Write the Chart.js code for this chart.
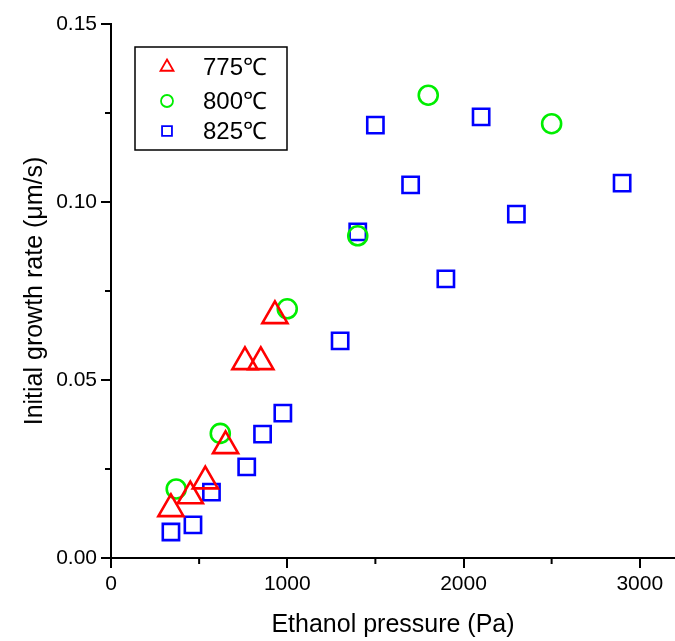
<!DOCTYPE html>
<html>
<head>
<meta charset="utf-8">
<script src="https://cdn.jsdelivr.net/npm/chart.js@4/dist/chart.umd.min.js"></script>
<style>
  html, body { margin: 0; padding: 0; background: #fff; }
  canvas { display: block; }
</style>
</head>
<body>
<canvas id="chart" width="675" height="641"></canvas>
<script>
// series (Ethanol pressure in Pa, growth rate in um/s)
const labels = ['775℃', '800℃', '825℃']

const x775 = [340, 450, 535, 650, 760, 850, 930]
const y775 = [0.0138, 0.0174, 0.0216, 0.0315, 0.0551, 0.0551, 0.068]

const x800 = [370, 620, 1000, 1400, 1800, 2500]
const y800 = [0.0194, 0.035, 0.070, 0.0905, 0.130, 0.122]

const x825 = [340, 465, 570, 770, 860, 975, 1300, 1400, 1500, 1700, 1900, 2100, 2300, 2900]
const y825 = [0.0073, 0.0093, 0.0185, 0.0256, 0.0348, 0.0407, 0.061, 0.0916, 0.1216, 0.1048, 0.0784, 0.1239, 0.0966, 0.1053]

const xTicks = [0, 1000, 2000, 3000]
const yTicks = [0, 0.05, 0.10, 0.15]
const xMajor = 1000
const yMajor = 0.05

const toPoints = (xs, ys) => xs.map((x, i) => ({ x: x, y: ys[i] }))

const FONT = "'Liberation Sans', Arial, sans-serif"

const series = [
  { label: labels[0], data: toPoints(x775, y775), color: '#ff0000', style: 'triangle', r: 14.5, lr: 7.5 },
  { label: labels[1], data: toPoints(x800, y800), color: '#00ee00', style: 'circle', r: 9.5, lr: 6 },
  { label: labels[2], data: toPoints(x825, y825), color: '#0000ff', style: 'rect', r: 11.5, lr: 7 },
]

// minor ticks + boxed legend, drawn after the chart
const extras = {
  id: 'extras',
  afterDraw(chart) {
    const ctx = chart.ctx
    const xs = chart.scales.x
    const ys = chart.scales.y
    const a = chart.chartArea
    ctx.save()
    ctx.strokeStyle = '#000'
    ctx.lineWidth = 2
    for (let v = xMajor / 2; v < xs.max; v += xMajor) {
      const px = xs.getPixelForValue(v)
      ctx.beginPath(); ctx.moveTo(px, a.bottom); ctx.lineTo(px, a.bottom + 6); ctx.stroke()
    }
    for (let v = yMajor / 2; v < ys.max; v += yMajor) {
      const py = ys.getPixelForValue(v)
      ctx.beginPath(); ctx.moveTo(a.left, py); ctx.lineTo(a.left - 6, py); ctx.stroke()
    }

    // legend
    const lx = a.left + 24, ly = a.top + 23
    ctx.lineWidth = 1.5
    ctx.strokeRect(lx, ly, 152, 103)
    ctx.font = '24px ' + FONT
    ctx.textBaseline = 'middle'
    ctx.textAlign = 'left'
    const rows = [20, 54, 84]
    series.forEach((s, i) => {
      ctx.strokeStyle = s.color
      ctx.fillStyle = 'rgba(0,0,0,0)'
      ctx.lineWidth = 1.8
      Chart.helpers.drawPoint(ctx, { pointStyle: s.style, radius: s.lr, rotation: 0, borderWidth: 1.8 }, lx + 32, ly + rows[i])
      ctx.fillStyle = '#000'
      ctx.fillText(s.label, lx + 68, ly + rows[i] + 1)
    })
    ctx.restore()
  }
}

const config = {
  type: 'scatter',
  data: {
    datasets: series.map(s => ({
      label: s.label,
      data: s.data,
      pointStyle: s.style,
      pointRadius: s.r,
      pointHoverRadius: s.r,
      pointBorderWidth: 2.6,
      borderColor: s.color,
      backgroundColor: 'rgba(0,0,0,0)',
      clip: false,
    })),
  },
  options: {
    responsive: false,
    devicePixelRatio: 1,
    animation: false,
    events: [],
    layout: { autoPadding: false, padding: { top: 24, right: 0, left: 0, bottom: 0 } },
    plugins: { legend: { display: false }, tooltip: { enabled: false } },
    scales: {
      x: {
        type: 'linear',
        min: 0,
        max: 3200,
        afterBuildTicks(scale) { scale.ticks = xTicks.map(v => ({ value: v })) },
        afterFit(scale) { scale.height = 83; scale.paddingRight = 0 },
        border: { display: true, color: '#000', width: 2 },
        grid: { drawOnChartArea: false, drawTicks: true, tickLength: 10, color: '#000', lineWidth: 2 },
        ticks: {
          color: '#000',
          padding: 4,
          maxRotation: 0,
          autoSkip: false,
          font: { family: FONT, size: 21 },
          callback: v => String(v),
        },
        title: {
          display: true,
          text: 'Ethanol pressure (Pa)',
          color: '#000',
          font: { family: FONT, size: 25, lineHeight: 1.2 },
          padding: { top: 0, bottom: 1 },
        },
      },
      y: {
        type: 'linear',
        min: 0,
        max: 0.15,
        afterBuildTicks(scale) { scale.ticks = yTicks.map(v => ({ value: v })) },
        afterFit(scale) { scale.width = 111 },
        border: { display: true, color: '#000', width: 2 },
        grid: { drawOnChartArea: false, drawTicks: true, tickLength: 10, color: '#000', lineWidth: 2 },
        ticks: {
          color: '#000',
          padding: 4,
          autoSkip: false,
          font: { family: FONT, size: 21 },
          callback: v => v.toFixed(2),
        },
        title: {
          display: true,
          text: 'Initial growth rate (μm/s)',
          color: '#000',
          font: { family: FONT, size: 25, lineHeight: 1.2 },
          padding: { top: 20, bottom: 0 },
        },
      },
    },
  },
  plugins: [extras],
}

const chart = new Chart(document.getElementById('chart'), config)
</script>
</body>
</html>
